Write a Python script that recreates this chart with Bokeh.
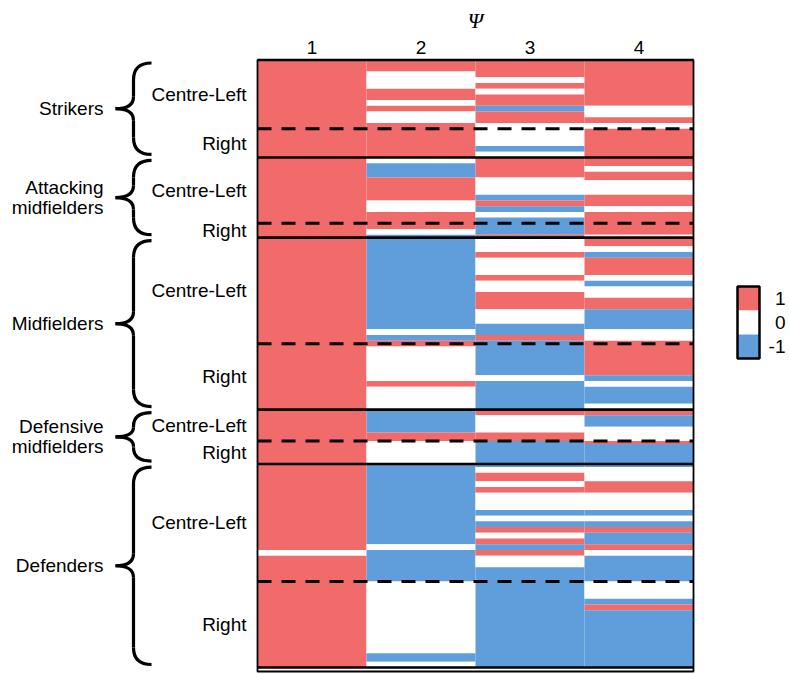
from bokeh.plotting import figure
from bokeh.models import Range1d
from bokeh.embed import file_html
from bokeh.resources import INLINE
from bokeh.core.properties import value

# ---------------- data ----------------
COLUMN_LABELS = ["1", "2", "3", "4"]
AXIS_TITLE = "Ψ"
GROUP_NAMES = [["Strikers"], ["Attacking", "midfielders"], ["Midfielders"],
               ["Defensive", "midfielders"], ["Defenders"]]
SUBGROUP_NAMES = ["Centre-Left", "Right"]
# rows of each group: [Centre-Left, Right]
SUBGROUP_ROWS = [[24, 10], [23, 5], [37, 23], [11, 8], [41, 30]]
COLORBAR_TICKS = [1, 0, -1]
COLORBAR_LABELS = ["1", "0", "-1"]

# values per row, top to bottom, run-length coded as (value, number of rows)
PSI_1 = [(1, 171), (0, 2), (1, 39)]
PSI_2 = [
    (1, 4), (0, 6), (1, 4), (0, 2), (1, 2), (0, 4), (1, 12),
    (0, 2), (-1, 5), (1, 8), (0, 4), (1, 6), (0, 2), (-1, 1),
    (-1, 32), (0, 2), (-1, 2), (1, 2), (0, 12), (1, 2), (0, 8),
    (-1, 8), (1, 3), (0, 8),
    (-1, 28), (0, 2), (-1, 11), (0, 25), (-1, 3), (0, 2),
]
PSI_3 = [
    (1, 6), (0, 2), (1, 2), (0, 2), (1, 4), (-1, 2), (1, 4), (0, 8), (-1, 2), (0, 2),
    (1, 7), (0, 6), (-1, 2), (1, 2), (-1, 2), (0, 2), (-1, 6), (1, 1),
    (0, 5), (1, 2), (0, 6), (1, 2), (0, 4), (1, 6), (0, 5), (-1, 4), (1, 2), (-1, 12), (0, 2), (-1, 10),
    (1, 2), (0, 6), (1, 3), (-1, 8),
    (-1, 1), (0, 2), (1, 3), (0, 2), (1, 2), (0, 6), (-1, 2), (0, 2), (-1, 2), (1, 2), (0, 2), (1, 2),
    (-1, 2), (1, 2), (0, 4), (-1, 35),
]
PSI_4 = [
    (1, 16), (0, 4), (1, 2), (0, 2), (1, 10),
    (1, 3), (0, 2), (1, 3), (0, 5), (1, 4), (0, 2), (1, 8), (0, 1),
    (1, 3), (0, 2), (-1, 2), (1, 6), (0, 2), (-1, 2), (0, 4), (1, 4), (-1, 7), (0, 4), (1, 12), (-1, 2),
    (0, 2), (-1, 6), (0, 2),
    (1, 2), (-1, 4), (0, 5), (1, 1), (-1, 7),
    (-1, 1), (0, 5), (1, 4), (0, 6), (-1, 2), (0, 2), (-1, 2), (1, 2), (-1, 4), (1, 2), (0, 2), (-1, 9),
    (0, 6), (-1, 2), (1, 2), (-1, 20),
]
COLUMNS = [PSI_1, PSI_2, PSI_3, PSI_4]

# ---------------- style / layout ----------------
RED, WHITE, BLUE = "#F26B6B", "#FFFFFF", "#5F9EDA"
CMAP = {1: RED, 0: WHITE, -1: BLUE}
FONT = value("Liberation Sans")
FS = "19px"
W, H = 789, 674
FRAME_X0 = 257.0      # canvas px of heatmap left edge
COL_W = 109.0         # px per column
FRAME_Y0 = 59.5       # canvas px of heatmap top edge
DATA_BOTTOM = 667.0   # canvas px of last row bottom
FRAME_PAD_PX = 4.0

N_ROWS = sum(n for v, n in PSI_1)
ROW_H = (DATA_BOTTOM - FRAME_Y0) / N_ROWS


def xd(px):
    return (px - FRAME_X0) / COL_W


def yd(py):
    return (py - FRAME_Y0) / ROW_H


p = figure(width=W, height=H, output_backend="svg", toolbar_location=None,
           x_range=Range1d(xd(0), xd(W)), y_range=Range1d(yd(H), yd(0)),
           x_axis_location=None, y_axis_location=None, min_border=0,
           outline_line_color=None, background_fill_color="white",
           border_fill_color="white")
p.xgrid.visible = False
p.ygrid.visible = False

# heatmap cells (consecutive equal values merged into one quad)
L, R, T, B, C = [], [], [], [], []
for ci, runs in enumerate(COLUMNS):
    vals = []
    for v, n in runs:
        vals += [v] * n
    start = 0
    for i in range(1, len(vals) + 1):
        if i == len(vals) or vals[i] != vals[start]:
            L.append(ci); R.append(ci + 1); T.append(start); B.append(i)
            C.append(CMAP[vals[start]])
            start = i
p.quad(left=L, right=R, top=T, bottom=B, fill_color=C, line_color=None)

ncol = len(COLUMNS)
# group boundaries
bounds = [0]
dashed = []
for cl, r in SUBGROUP_ROWS:
    dashed.append(bounds[-1] + cl)
    bounds.append(bounds[-1] + cl + r)

p.quad(left=[0], right=[ncol], top=[0], bottom=[N_ROWS + FRAME_PAD_PX / ROW_H],
       fill_color=None, line_color="black", line_width=1.8)
p.segment(x0=[0] * len(bounds), x1=[ncol] * len(bounds), y0=bounds, y1=bounds,
          line_color="black", line_width=2.6)
p.segment(x0=[0] * len(dashed), x1=[ncol] * len(dashed), y0=dashed, y1=dashed,
          line_color="black", line_width=3, line_dash="14 10")

# column labels and title
p.text(x=[i + 0.5 for i in range(ncol)], y=[yd(47)] * ncol, text=COLUMN_LABELS,
       text_font=FONT, text_font_size=FS, text_align="center",
       text_baseline="alphabetic", text_color="black")
p.text(x=[ncol / 2], y=[yd(20)], text=[AXIS_TITLE], text_font=value("Liberation Serif"),
       text_font_style="italic", text_font_size="22px", text_align="center",
       text_baseline="alphabetic", text_color="black")

# sub-group labels
sx, sy, st = [], [], []
for g, (cl, r) in enumerate(SUBGROUP_ROWS):
    top = bounds[g]
    sx += [xd(246), xd(246)]
    sy += [top + cl / 2, top + cl + r / 2]
    st += SUBGROUP_NAMES
p.text(x=sx, y=sy, text=st, text_font=FONT, text_font_size=FS,
       text_align="right", text_baseline="middle", text_color="black")

# group labels and braces
LINE_PX = 20.0
gx, gy, gt = [], [], []
X_TIP, X_STEM, X_END = xd(115), xd(133), xd(151)
R_END, R_TIP, INSET = 17.0 / ROW_H, 12.0 / ROW_H, 3.0 / ROW_H
q = dict(x0=[], y0=[], x1=[], y1=[], cx=[], cy=[])
sg = dict(x0=[], y0=[], x1=[], y1=[])
for g, names in enumerate(GROUP_NAMES):
    t, b = bounds[g] + INSET, bounds[g + 1] - INSET
    m = (bounds[g] + bounds[g + 1]) / 2
    for k, name in enumerate(names):
        gx.append(xd(103))
        gy.append(m + (k - (len(names) - 1) / 2) * LINE_PX / ROW_H)
        gt.append(name)
    half = (b - t) / 2
    f = min(1.0, 0.95 * half / (R_END + R_TIP))
    re, rt = R_END * f, R_TIP * f
    # top curl, upper tip, lower tip, bottom curl
    for (x0, y0, x1, y1, cx, cy) in [
        (X_END, t, X_STEM, t + re, X_STEM, t),
        (X_STEM, m - rt, X_TIP, m, X_STEM, m),
        (X_TIP, m, X_STEM, m + rt, X_STEM, m),
        (X_STEM, b - re, X_END, b, X_STEM, b),
    ]:
        q["x0"].append(x0); q["y0"].append(y0); q["x1"].append(x1)
        q["y1"].append(y1); q["cx"].append(cx); q["cy"].append(cy)
    sg["x0"] += [X_STEM, X_STEM]; sg["x1"] += [X_STEM, X_STEM]
    sg["y0"] += [t + re, m + rt]; sg["y1"] += [m - rt, b - re]
p.quadratic(**q, line_color="black", line_width=3.2)
p.segment(**sg, line_color="black", line_width=3.2)
p.text(x=gx, y=gy, text=gt, text_font=FONT, text_font_size=FS,
       text_align="right", text_baseline="middle", text_color="black")

# colorbar
CB_X0, CB_X1, CB_TOP, CB_BAND = 737, 759, 286, 24
cb_top = [yd(CB_TOP + i * CB_BAND) for i in range(len(COLORBAR_TICKS))]
cb_bot = [yd(CB_TOP + (i + 1) * CB_BAND) for i in range(len(COLORBAR_TICKS))]
p.quad(left=[xd(CB_X0)] * 3, right=[xd(CB_X1)] * 3, top=cb_top, bottom=cb_bot,
       fill_color=[CMAP[v] for v in COLORBAR_TICKS], line_color=None)
p.quad(left=[xd(CB_X0)], right=[xd(CB_X1)], top=[cb_top[0]], bottom=[cb_bot[-1]],
       fill_color=None, line_color="black", line_width=2.5)
p.text(x=[xd(785)] * 3, y=[(a + b) / 2 for a, b in zip(cb_top, cb_bot)],
       text=COLORBAR_LABELS, text_font=FONT, text_font_size=FS,
       text_align="right", text_baseline="middle", text_color="black")

open("out.html", "w").write(file_html(p, INLINE))
